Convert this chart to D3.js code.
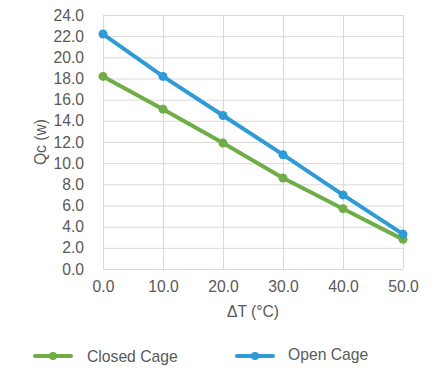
<!DOCTYPE html>
<html><head><meta charset="utf-8">
<script src="https://cdn.jsdelivr.net/npm/d3@7"></script>
<style>body{margin:0;background:#fff}svg{display:block}text{font-family:"Liberation Sans",Arial,sans-serif;fill:#595959}</style>
</head><body><svg id="c" width="444" height="384"></svg>
<script>
const xValues = [0, 10, 20, 30, 40, 50];
const closedCage = [18.2, 15.1, 11.9, 8.6, 5.7, 2.8];
const openCage = [22.2, 18.2, 14.5, 10.8, 7.0, 3.3];
const yTicks = [0, 2, 4, 6, 8, 10, 12, 14, 16, 18, 20, 22, 24];
const xTicks = [0, 10, 20, 30, 40, 50];
const seriesNames = ["Closed Cage", "Open Cage"];
const colors = ["#70AD47", "#2E9BD6"];

const svg = d3.select("#c");
const x = d3.scaleLinear().domain([0, 50]).range([103, 403]);
const y = d3.scaleLinear().domain([0, 24]).range([269, 15]);
const fs = "15.7px";

const g = svg.append("g");
g.selectAll(".hg").data(yTicks).join("line")
  .attr("x1", x(0)).attr("x2", x(50)).attr("y1", d => y(d) + 0.5).attr("y2", d => y(d) + 0.5)
  .attr("stroke", "#d9d9d9").attr("stroke-width", 1);
g.selectAll(".vg").data(xTicks).join("line")
  .attr("y1", y(0)).attr("y2", y(24)).attr("x1", d => x(d) + 0.5).attr("x2", d => x(d) + 0.5)
  .attr("stroke", "#d9d9d9").attr("stroke-width", 1);

const yAxis = d3.axisLeft(y).tickValues(yTicks).tickFormat(d3.format(".1f")).tickSize(0).tickPadding(19);
const ya = svg.append("g").attr("transform", `translate(${x(0)},0)`).call(yAxis);
ya.select(".domain").remove();
ya.selectAll("text").style("font-size", fs).attr("fill", "#595959").style("font-family", '"Liberation Sans",Arial,sans-serif');

const xAxis = d3.axisBottom(x).tickValues(xTicks).tickFormat(d3.format(".1f")).tickSize(0).tickPadding(12);
const xa = svg.append("g").attr("transform", `translate(0,${y(0)})`).call(xAxis);
xa.select(".domain").remove();
xa.selectAll("text").style("font-size", fs).attr("fill", "#595959").style("font-family", '"Liberation Sans",Arial,sans-serif');

svg.append("text").attr("x", 253).attr("y", 317).attr("text-anchor", "middle")
  .style("font-size", fs).text("ΔT (°C)");
svg.append("text").attr("transform", "translate(46,142) rotate(-90)").attr("text-anchor", "middle")
  .style("font-size", fs).text("Qc (w)");

const series = [closedCage, openCage];
const line = d3.line().x((d, i) => x(xValues[i])).y(d => y(d));
series.forEach((s, k) => {
  svg.append("path").datum(s).attr("d", line).attr("fill", "none")
    .attr("stroke", colors[k]).attr("stroke-width", 4).attr("stroke-linejoin", "round").attr("stroke-linecap", "round");
  svg.append("g").selectAll("circle").data(s).join("circle")
    .attr("cx", (d, i) => x(xValues[i])).attr("cy", d => y(d)).attr("r", 4.5).attr("fill", colors[k]);
});

const legend = [{x: 35, tx: 87, ty: 362, ly: 356}, {x: 237, tx: 288, ty: 360, ly: 356}];
legend.forEach((L, k) => {
  svg.append("line").attr("x1", L.x).attr("x2", L.x + 36).attr("y1", L.ly).attr("y2", L.ly)
    .attr("stroke", colors[k]).attr("stroke-width", 4).attr("stroke-linecap", "round");
  svg.append("circle").attr("cx", L.x + 18).attr("cy", L.ly).attr("r", 4).attr("fill", colors[k]);
  svg.append("text").attr("x", L.tx).attr("y", L.ty).style("font-size", fs).text(seriesNames[k]);
});
</script></body></html>
